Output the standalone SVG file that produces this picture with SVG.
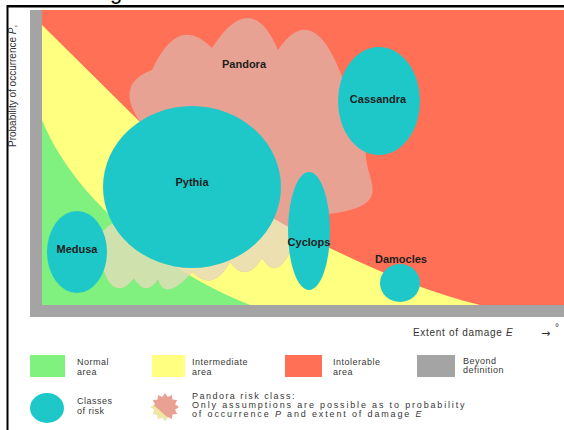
<svg xmlns="http://www.w3.org/2000/svg" width="564" height="430" viewBox="0 0 564 430">
<style>
.lbl{font-family:"Liberation Sans",Arial,sans-serif;font-size:11px;font-weight:bold;fill:#1e1e1e;text-anchor:middle}
.leg{font-family:"Liberation Sans",Arial,sans-serif;font-size:9px;fill:#383838;letter-spacing:0.5px}
.ax{font-family:"Liberation Sans",Arial,sans-serif;font-size:10px;fill:#333}
.teal{fill:#1FC8C8}
.red{fill:#FF7056}
.yel{fill:#FFFF80}
.grn{fill:#80F07E}
.gry{fill:#A4A4A4}
</style>
<defs>
<path id="pandoraShape" d="M140,122 Q114,84 152,70 Q178,13 212,48 Q251,-13 278,50 Q314.5,-3.5 345,85 Q400,110 366,148 C362,180 400,205 328,214 L290,252 Q276,281 262,258 Q246,284 230,262 Q213,293 192,272 Q165,302.5 158,279 Q146,297.5 134,278 Q119,297 108,280 L100,262 L102,232 L110,225 L120,222 L160,170 Z"/>
<clipPath id="clipYel">
<path d="M42,25 L138,120 C190,170 240,200 285,225 C360,265 420,290 480,305 L42,305 Z"/>
</clipPath>
<clipPath id="clipGrn">
<path d="M42,120 C70,190 150,265 250,305 L42,305 Z"/>
</clipPath>
<clipPath id="iconClip">
<polygon points="179,407 175.1,409.7 177.1,414 172.4,414.4 172,419.1 167.7,417.1 165,421 162.3,417.1 158,419.1 157.6,414.4 152.9,414 154.9,409.7 151,407 154.9,404.3 152.9,400 157.6,399.6 158,394.9 162.3,396.9 165,393 167.7,396.9 172,394.9 172.4,399.6 177.1,400 175.1,404.3"/>
</clipPath>
</defs>
<rect width="564" height="430" fill="#ffffff"/>
<text x="110" y="-1" font-family="Liberation Sans, Arial, sans-serif" font-size="22" fill="#000">g</text>
<g id="frame">
<rect x="7" y="5" width="557" height="2.5" fill="#000"/>
<rect x="6.5" y="5" width="2" height="425" fill="#000"/>
</g>
<g id="areas">
<rect class="red" x="42" y="10" width="522" height="296"/>
<path class="yel" d="M42,25 L138,120 C190,170 240,200 285,225 C360,265 420,290 480,305 L42,305 Z"/>
<path class="grn" d="M42,120 C70,190 150,265 250,305 L42,305 Z"/>
</g>
<g id="pandora">
<use href="#pandoraShape" fill="#E8A294"/>
<use href="#pandoraShape" fill="#ECDFB0" clip-path="url(#clipYel)"/>
<use href="#pandoraShape" fill="#CFE2AD" clip-path="url(#clipGrn)"/>
<text class="lbl" x="244" y="68">Pandora</text>
</g>
<g id="axis-frame">
<rect class="gry" x="30" y="10" width="12" height="307"/>
<rect class="gry" x="30" y="305" width="534" height="12"/>
</g>
<g id="pythia">
<ellipse class="teal" cx="192" cy="187" rx="89" ry="81"/>
<text class="lbl" x="192" y="186">Pythia</text>
</g>
<g id="medusa">
<ellipse class="teal" cx="77" cy="252" rx="30" ry="41"/>
<text class="lbl" x="77" y="253">Medusa</text>
</g>
<g id="cassandra">
<ellipse class="teal" cx="379" cy="101" rx="41" ry="54"/>
<text class="lbl" x="378" y="103">Cassandra</text>
</g>
<g id="cyclops">
<ellipse class="teal" cx="309" cy="231" rx="21" ry="59"/>
<text class="lbl" x="309" y="245.5">Cyclops</text>
</g>
<g id="damocles">
<ellipse class="teal" cx="400" cy="283" rx="20" ry="19"/>
<text class="lbl" x="401" y="263">Damocles</text>
</g>
<g id="axes">
<text class="ax" transform="translate(15.5,147) rotate(-90)">Probability of occurrence <tspan font-style="italic">P</tspan>,</text>
<text class="ax" x="413" y="336" letter-spacing="0.7">Extent of damage <tspan font-style="italic">E</tspan></text>
<text x="541" y="337" font-family="DejaVu Sans, sans-serif" font-size="11" fill="#333">→</text>
<text class="ax" x="555" y="331" font-size="7">°</text>
</g>
<g id="connectors"></g>
<g id="legend">
<g id="leg-normal">
<rect class="grn" x="30" y="355" width="35" height="22"/>
<text class="leg" x="77" y="365">Normal</text>
<text class="leg" x="77" y="375">area</text>
</g>
<g id="leg-intermediate">
<rect class="yel" x="152" y="355" width="33" height="22"/>
<text class="leg" x="192" y="365">Intermediate</text>
<text class="leg" x="192" y="375">area</text>
</g>
<g id="leg-intolerable">
<rect class="red" x="285" y="355" width="37" height="22"/>
<text class="leg" x="333" y="365">Intolerable</text>
<text class="leg" x="333" y="375">area</text>
</g>
<g id="leg-beyond">
<rect class="gry" x="417" y="355" width="38" height="22"/>
<text class="leg" x="463" y="364">Beyond</text>
<text class="leg" x="463" y="373">definition</text>
</g>
<g id="leg-classes">
<ellipse class="teal" cx="47" cy="408" rx="17" ry="15"/>
<text class="leg" x="77" y="404">Classes</text>
<text class="leg" x="77" y="414">of risk</text>
</g>
<g id="leg-pandora">
<g clip-path="url(#iconClip)">
<rect x="148" y="390" width="34" height="34" fill="#E9A193"/>
<polygon points="148,400 175,424 148,424" fill="#EFE7A2"/>
<polygon points="148,412 162,424 148,424" fill="#BEE4A2"/>
</g>
<text class="leg" x="192" y="399" font-size="8.5" textLength="103">Pandora risk class:</text>
<text class="leg" x="192" y="408" font-size="8.5" textLength="273">Only assumptions are possible as to probability</text>
<text class="leg" x="192" y="417" font-size="8.5" textLength="230">of occurrence <tspan font-style="italic">P</tspan> and extent of damage <tspan font-style="italic">E</tspan></text>
</g>
</g>
</svg>
